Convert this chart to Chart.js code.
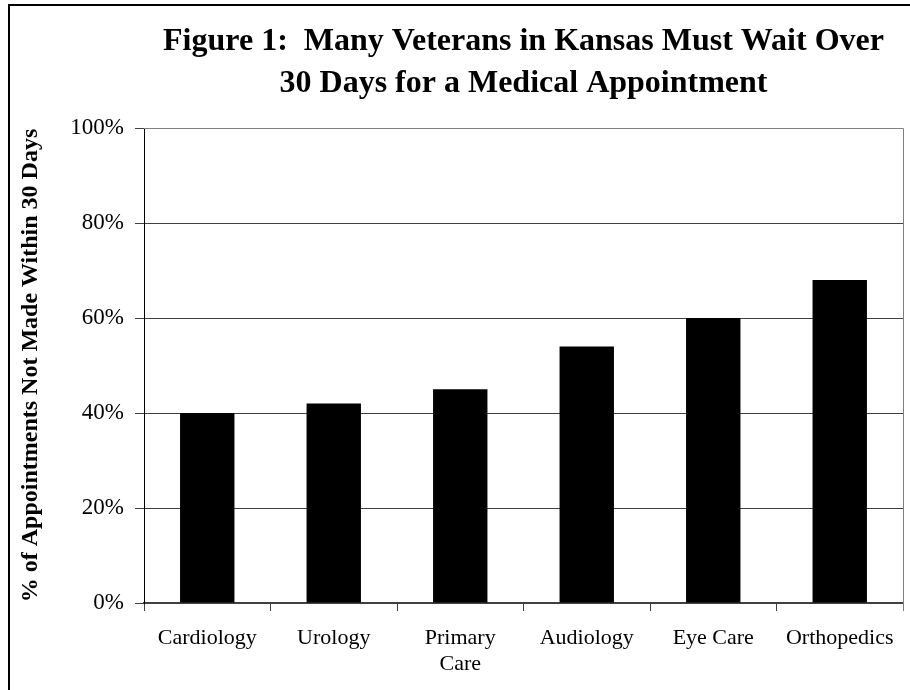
<!DOCTYPE html>
<html>
<head>
<meta charset="utf-8">
<script src="https://cdn.jsdelivr.net/npm/chart.js@4.4.1/dist/chart.umd.min.js"></script>
<style>
  html, body { margin: 0; padding: 0; background: #fff; }
  #wrap { width: 910px; height: 690px; position: relative; }
</style>
</head>
<body>
<div id="wrap"><canvas id="myChart" width="910" height="690"></canvas></div>
<script>
const categories = ['Cardiology', 'Urology', ['Primary', 'Care'], 'Audiology', 'Eye Care', 'Orthopedics'];
const percentNotMade = [40, 42, 45, 54, 60, 68];
const yTicks = [0, 20, 40, 60, 80, 100];
const titleLines = ['Figure 1:  Many Veterans in Kansas Must Wait Over', '30 Days for a Medical Appointment'];
const yTitle = '% of Appointments Not Made Within 30 Days';

const serif = '"Liberation Serif", "Times New Roman", serif';

// frame, plot border and title drawn by hand
const frameAndTitle = {
    id: 'frameAndTitle',
    beforeDraw(chart) {
        const ctx = chart.ctx;
        ctx.save();
        ctx.strokeStyle = '#000';
        ctx.lineWidth = 2;
        ctx.beginPath();
        ctx.moveTo(9, 700);
        ctx.lineTo(9, 5);
        ctx.lineTo(920, 5);
        ctx.stroke();
        ctx.restore();
    },
    afterDraw(chart) {
        const ctx = chart.ctx;
        const a = chart.chartArea;
        ctx.save();
        ctx.strokeStyle = '#808080';
        ctx.lineWidth = 1;
        ctx.beginPath();
        ctx.moveTo(a.left, a.top + 0.5);
        ctx.lineTo(a.right + 0.5, a.top + 0.5);
        ctx.lineTo(a.right + 0.5, a.bottom + 8);
        ctx.stroke();
        ctx.fillStyle = '#000';
        ctx.font = 'bold 32px ' + serif;
        ctx.textAlign = 'center';
        ctx.textBaseline = 'alphabetic';
        const cx = (a.left + a.right) / 2;
        ctx.fillText(titleLines[0], cx, 50);
        ctx.fillText(titleLines[1], cx, 92);
        ctx.restore();
    }
};

const ctx = document.getElementById('myChart').getContext('2d');
new Chart(ctx, {
    type: 'bar',
    data: {
        labels: categories,
        datasets: [{
            data: percentNotMade,
            backgroundColor: '#000',
            borderWidth: 0,
            categoryPercentage: 1,
            barPercentage: 0.43
        }]
    },
    options: {
        responsive: false,
        animation: false,
        layout: { padding: { left: 0, right: 7, top: 128, bottom: 0 } },
        plugins: {
            legend: { display: false },
            title: { display: false },
            tooltip: { enabled: false }
        },
        scales: {
            x: {
                offset: true,
                grid: {
                    offset: true,
                    drawOnChartArea: false,
                    drawTicks: true,
                    tickLength: 8,
                    color: '#404040'
                },
                border: { color: '#404040', width: 2 },
                ticks: {
                    color: '#000',
                    padding: 14,
                    maxRotation: 0,
                    autoSkip: false,
                    font: { family: serif, size: 22, lineHeight: 1.2 }
                },
                afterFit(s) { s.height = 87; }
            },
            y: {
                min: 0,
                max: 100,
                afterBuildTicks(s) { s.ticks = yTicks.map(v => ({ value: v })); },
                grid: {
                    color: '#404040',
                    lineWidth: 1,
                    tickLength: 9
                },
                border: { color: '#000', width: 1 },
                ticks: {
                    color: '#000',
                    padding: 11,
                    font: { family: serif, size: 23 },
                    callback: v => v + '%'
                },
                title: {
                    display: true,
                    text: yTitle,
                    color: '#000',
                    padding: { top: 16, bottom: 0 },
                    font: { family: serif, size: 24, weight: 'bold' }
                },
                afterFit(s) { s.width = 144; }
            }
        }
    },
    plugins: [frameAndTitle]
});
</script>
</body>
</html>
